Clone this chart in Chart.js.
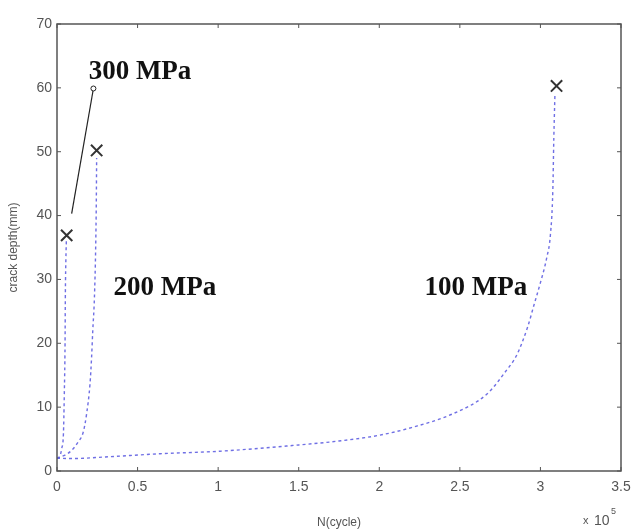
<!DOCTYPE html>
<html>
<head>
<meta charset="utf-8">
<script src="https://cdn.jsdelivr.net/npm/chart.js@4.4.1/dist/chart.umd.min.js"></script>
<style>
html,body{margin:0;padding:0;background:#fff;}
#wrap{width:635px;height:530px;position:relative;}
</style>
</head>
<body>
<div id="wrap"><canvas id="c" width="635" height="530"></canvas></div>
<script>
// crack depth (mm) vs N (x10^5 cycles)
const x100 = [0, 0.1, 0.3, 0.64, 1.01, 1.51, 1.75, 2.0, 2.2, 2.46, 2.67, 2.79, 2.85, 2.92, 2.96, 3.0, 3.04, 3.062, 3.077, 3.083, 3.09];
const y100 = [2, 1.95, 2.2, 2.7, 3.1, 4.1, 4.7, 5.6, 6.8, 9.0, 12.1, 15.8, 18, 22.5, 26, 29.5, 33.5, 37, 44, 52, 59];
const x200 = [0, 0.05, 0.09, 0.13, 0.163, 0.184, 0.205, 0.215, 0.222, 0.232, 0.24, 0.244, 0.246];
const y200 = [2, 2.5, 3.2, 4.5, 6.1, 9.0, 13.7, 18, 22, 27, 35, 42.4, 49];
const x300 = [0, 0.015, 0.03, 0.04, 0.045, 0.05, 0.052, 0.055, 0.058];
const y300 = [2, 2.2, 3.6, 5.9, 11.6, 20, 28, 33, 36];
const endX = [3.1, 0.246, 0.06];
const endY = [60.3, 50.2, 36.9];
const leaderX = [0.091, 0.226];
const leaderY = [40.3, 59.9];
const labels = ["300 MPa", "200 MPa", "100 MPa"];
const labelX = [0.515, 0.67, 2.6];
const labelY = [62.5, 28.6, 28.6];
const xTicks = [0, 0.5, 1, 1.5, 2, 2.5, 3, 3.5];
const yTicks = [0, 10, 20, 30, 40, 50, 60, 70];

const pts = (xs, ys) => xs.map((x, i) => ({x: x, y: ys[i]}));
const curveStyle = {
  borderColor: 'rgba(95,95,225,0.9)', borderWidth: 1.4, borderDash: [3, 3],
  pointRadius: 0, fill: false, cubicInterpolationMode: 'monotone', showLine: true
};

const boxTicks = {
  id: 'boxTicks',
  afterDraw(chart) {
    const ctx = chart.ctx, a = chart.chartArea;
    const xs = chart.scales.x, ys = chart.scales.y;
    ctx.save();
    ctx.strokeStyle = '#555';
    ctx.lineWidth = 1.5;
    ctx.strokeRect(a.left, a.top, a.right - a.left, a.bottom - a.top);
    ctx.lineWidth = 1;
    const L = 4;
    xTicks.forEach(v => {
      const p = xs.getPixelForValue(v);
      ctx.beginPath();
      ctx.moveTo(p, a.bottom); ctx.lineTo(p, a.bottom - L);
      ctx.moveTo(p, a.top); ctx.lineTo(p, a.top + L);
      ctx.stroke();
    });
    yTicks.forEach(v => {
      const p = ys.getPixelForValue(v);
      ctx.beginPath();
      ctx.moveTo(a.left, p); ctx.lineTo(a.left + L, p);
      ctx.moveTo(a.right, p); ctx.lineTo(a.right - L, p);
      ctx.stroke();
    });
    // annotation labels
    ctx.fillStyle = '#111';
    ctx.font = 'bold 27px "Liberation Serif", "Times New Roman", serif';
    ctx.textAlign = 'center';
    ctx.textBaseline = 'middle';
    labels.forEach((t, i) => {
      ctx.fillText(t, xs.getPixelForValue(labelX[i]), ys.getPixelForValue(labelY[i]));
    });
    // exponent
    ctx.fillStyle = '#555';
    ctx.textAlign = 'left';
    ctx.textBaseline = 'alphabetic';
    ctx.font = '11px "Liberation Sans", Arial, sans-serif';
    ctx.fillText('x', 583, 524);
    ctx.font = '14px "Liberation Sans", Arial, sans-serif';
    ctx.fillText('10', 594, 525);
    ctx.font = '9px "Liberation Sans", Arial, sans-serif';
    ctx.fillText('5', 611, 514);
    ctx.restore();
  }
};

new Chart(document.getElementById('c'), {
  type: 'scatter',
  data: {
    datasets: [
      Object.assign({label: '100 MPa', data: pts(x100, y100)}, curveStyle),
      Object.assign({label: '200 MPa', data: pts(x200, y200)}, curveStyle),
      Object.assign({label: '300 MPa', data: pts(x300, y300)}, curveStyle),
      {
        label: 'failure', data: pts(endX, endY), showLine: false,
        pointStyle: 'crossRot', pointRadius: 8, pointBorderWidth: 2,
        pointBorderColor: '#333', pointBackgroundColor: '#333'
      },
      {
        label: 'leader', data: pts(leaderX, leaderY), showLine: true,
        borderColor: '#222', borderWidth: 1.2,
        pointRadius: [0, 2.5], pointBackgroundColor: '#fff', pointBorderColor: '#222', pointBorderWidth: 1
      }
    ]
  },
  options: {
    responsive: false,
    animation: false,
    layout: {padding: {left: 6, right: 14, top: 24, bottom: 0}},
    plugins: {legend: {display: false}, tooltip: {enabled: false}},
    scales: {
      x: {
        type: 'linear', min: 0, max: 3.5,
        afterBuildTicks: s => { s.ticks = xTicks.map(v => ({value: v})); },
        afterFit: s => { s.height = 59; s.paddingRight = 0; s.paddingLeft = 0; },
        grid: {display: false, drawTicks: false},
        border: {display: false},
        ticks: {
          color: '#555', padding: 8,
          font: {family: '"Liberation Sans", Arial, sans-serif', size: 14},
          callback: v => String(v)
        },
        title: {
          display: true, text: 'N(cycle)', color: '#555',
          font: {family: '"Liberation Sans", Arial, sans-serif', size: 12},
          padding: {top: 2, bottom: 0}
        }
      },
      y: {
        type: 'linear', min: 0, max: 70,
        afterBuildTicks: s => { s.ticks = yTicks.map(v => ({value: v})); },
        afterFit: s => { s.width = 51; s.paddingTop = 0; s.paddingBottom = 0; },
        grid: {display: false, drawTicks: false},
        border: {display: false},
        ticks: {
          color: '#555', padding: 5,
          font: {family: '"Liberation Sans", Arial, sans-serif', size: 14}
        },
        title: {
          display: true, text: 'crack depth(mm)', color: '#555',
          font: {family: '"Liberation Sans", Arial, sans-serif', size: 12},
          padding: {top: 0, bottom: 4}
        }
      }
    }
  },
  plugins: [boxTicks]
});
</script>
</body>
</html>
